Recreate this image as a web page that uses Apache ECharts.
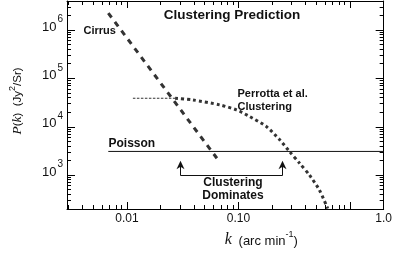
<!DOCTYPE html>
<html><head><meta charset="utf-8">
<script src="https://cdn.jsdelivr.net/npm/echarts@6/dist/echarts.min.js"></script>
<style>html,body{margin:0;padding:0;background:#fff}#c{width:395px;height:262px}</style>
</head><body><div id="c"></div>
<script>
// ---- axis ranges & ticks ----
const xMin = 0.0029, xMax = 2.0;
const yMin = 200, yMax = 4.0e6;
const xTickValues = [0.01, 0.1];
const xTickLabels = ['0.01', '0.10'];
const xEdgeLabel = '1.0';
const xMinorTicks = [0.003,0.004,0.005,0.006,0.007,0.008,0.009,0.02,0.03,0.04,0.05,0.06,0.07,0.08,0.09,0.2,0.3,0.4,0.5,0.6,0.7,0.8,0.9];
const yTickValues = [1e3, 1e4, 1e5, 1e6];
const yTickExponents = ['3', '4', '5', '6'];
const yMinorTicks = [300,400,500,600,700,800,900,2e3,3e3,4e3,5e3,6e3,7e3,8e3,9e3,2e4,3e4,4e4,5e4,6e4,7e4,8e4,9e4,2e5,3e5,4e5,5e5,6e5,7e5,8e5,9e5,2e6,3e6];
// ---- series ----
const cirrusK = [0.0068, 0.064];
const cirrusP = [2.25e6, 2240];
const perrottaFlatK = [0.0113, 0.027];
const perrottaFlatP = [3.9e4, 3.9e4];
const perrottaK = [0.027, 0.039, 0.068, 0.096, 0.126, 0.178, 0.234, 0.287, 0.353, 0.433, 0.532, 0.63];
const perrottaP = [3.9e4, 3.6e4, 2.84e4, 2.24e4, 1.63e4, 1.01e4, 5.4e3, 3.07e3, 1.76e3, 1.0e3, 490, 205];
const poissonK = [0.0068, 2.0];
const poissonP = [3100, 3100];
const bracketK = [0.03, 0.25];
const bracketBaseP = 1000;
const arrowTipP = 2000;
// ---- texts ----
const titleText = 'Clustering Prediction';
const cirrusText = 'Cirrus';
const perrottaText = 'Perrotta et al.\nClustering';
const poissonText = 'Poisson';
const dominatesText = 'Clustering\nDominates';

const SANS = '"Liberation Sans", Arial, Helvetica, sans-serif';
const SERIF = '"Liberation Serif", "Times New Roman", serif';
const INK = '#111';
const LINE = '#333';

const zip = (a, b) => a.map((v, i) => [v, b[i]]);
const near = (a, b) => Math.abs(Math.log10(a) - Math.log10(b)) < 1e-4;
const px = v => Math.round(v - 0.5) + 0.5;

const chart = echarts.init(document.getElementById('c'), null, {renderer: 'canvas'});

const commonX = {type: 'log', min: xMin, max: xMax, logBase: 10, splitLine: {show: false}};
const commonY = {type: 'log', min: yMin, max: yMax, logBase: 10, splitLine: {show: false}};

chart.setOption({
  animation: false,
  backgroundColor: '#fff',
  grid: {left: 67, right: 11, top: 1, bottom: 53},
  xAxis: [
    Object.assign({}, commonX, {
      position: 'bottom',
      axisLine: {show: true, lineStyle: {color: '#000', width: 1}},
      axisTick: {show: true, inside: true, length: 7, lineStyle: {color: '#000'}},
      axisLabel: {
        show: true, margin: 4, color: INK, fontFamily: SANS, fontSize: 12,
        showMinLabel: false, showMaxLabel: true,
        formatter: v => {
          for (let i = 0; i < xTickValues.length; i++) if (near(v, xTickValues[i])) return xTickLabels[i];
          if (near(v, xMax)) return xEdgeLabel;
          return '';
        }
      },
      name: '{k|k}{t| (arc min}{s|-1}{t|)}',
      nameLocation: 'middle', nameGap: 19,
      nameTextStyle: {
        padding: [0, 0, 0, 72],
        rich: {
          k: {fontFamily: SERIF, fontStyle: 'italic', fontSize: 16, color: INK, verticalAlign: 'bottom', lineHeight: 18, padding: [0, 3, 0, 0]},
          t: {fontFamily: SANS, fontSize: 13, color: INK, verticalAlign: 'bottom', lineHeight: 16},
          s: {fontFamily: SANS, fontSize: 9, color: INK, verticalAlign: 'top', lineHeight: 10}
        }
      }
    }),
    Object.assign({}, commonX, {
      position: 'top',
      axisLine: {show: true, lineStyle: {color: '#000', width: 1}},
      axisTick: {show: true, inside: true, length: 7, lineStyle: {color: '#000'}},
      axisLabel: {show: false}
    })
  ],
  yAxis: [
    Object.assign({}, commonY, {
      position: 'left',
      axisLine: {show: true, lineStyle: {color: '#000', width: 1}},
      axisTick: {show: true, inside: true, length: 8, lineStyle: {color: '#000'}},
      axisLabel: {
        show: true, margin: 4, color: INK,
        showMinLabel: false, showMaxLabel: false,
        padding: [0, 0, 6, 0],
        formatter: v => {
          for (let i = 0; i < yTickValues.length; i++) if (near(v, yTickValues[i])) return '{b|10}{s|' + yTickExponents[i] + '}';
          return '';
        },
        rich: {
          b: {fontFamily: SANS, fontSize: 13, color: INK, verticalAlign: 'bottom', lineHeight: 13, padding: [6, 0, 0, 0]},
          s: {fontFamily: SANS, fontSize: 10, color: INK, verticalAlign: 'bottom', lineHeight: 10, padding: [0, 0, 9, 1]}
        }
      },
      name: '{i|P}{t|(}{i|k}{t|)  (Jy}{s|2}{t|/Sr)}',
      nameLocation: 'middle', nameRotate: 90, nameGap: 43,
      nameTextStyle: {
        padding: [0, 0, 0, 8],
        rich: {
          i: {fontFamily: SERIF, fontStyle: 'italic', fontSize: 13.5, color: INK, verticalAlign: 'bottom', lineHeight: 16},
          t: {fontFamily: SANS, fontSize: 11.5, color: INK, verticalAlign: 'bottom', lineHeight: 15},
          s: {fontFamily: SANS, fontSize: 9, color: INK, verticalAlign: 'top', lineHeight: 10}
        }
      }
    }),
    Object.assign({}, commonY, {
      position: 'right',
      axisLine: {show: true, lineStyle: {color: '#000', width: 1}},
      axisTick: {show: true, inside: true, length: 8, lineStyle: {color: '#000'}},
      axisLabel: {show: false}
    })
  ],
  series: [
    {
      name: 'xMinor', type: 'custom', silent: true, clip: false, z: 5,
      data: xMinorTicks.map(v => [v, yMin]),
      renderItem: (params, api) => {
        const cs = params.coordSys;
        const x = px(api.coord([api.value(0), api.value(1)])[0]);
        const b = cs.y + cs.height, t = cs.y;
        return {type: 'group', children: [
          {type: 'line', shape: {x1: x, y1: b, x2: x, y2: b - 4}, style: {stroke: '#000', lineWidth: 1}},
          {type: 'line', shape: {x1: x, y1: t, x2: x, y2: t + 4}, style: {stroke: '#000', lineWidth: 1}}
        ]};
      }
    },
    {
      name: 'yMinor', type: 'custom', silent: true, clip: false, z: 5,
      data: yMinorTicks.map(v => [xMin, v]),
      renderItem: (params, api) => {
        const cs = params.coordSys;
        const y = px(api.coord([api.value(0), api.value(1)])[1]);
        const l = cs.x, r = cs.x + cs.width;
        return {type: 'group', children: [
          {type: 'line', shape: {x1: l, y1: y, x2: l + 4, y2: y}, style: {stroke: '#000', lineWidth: 1}},
          {type: 'line', shape: {x1: r, y1: y, x2: r - 4, y2: y}, style: {stroke: '#000', lineWidth: 1}}
        ]};
      }
    },
    {
      name: 'Poisson', type: 'line', symbol: 'none', silent: true,
      data: zip(poissonK, poissonP),
      lineStyle: {color: '#111', width: 1, type: 'solid'}
    },
    {
      name: 'Cirrus', type: 'line', symbol: 'none', silent: true,
      data: zip(cirrusK, cirrusP),
      lineStyle: {color: LINE, width: 3, type: [5.5, 5.5], cap: 'butt'}
    },
    {
      name: 'PerrottaFlat', type: 'line', symbol: 'none', silent: true,
      data: zip(perrottaFlatK, perrottaFlatP),
      lineStyle: {color: LINE, width: 1, type: [2.5, 1.5]}
    },
    {
      name: 'Perrotta', type: 'line', symbol: 'none', silent: true, smooth: 0.25,
      data: zip(perrottaK, perrottaP),
      lineStyle: {color: LINE, width: 3, type: [3, 3], cap: 'butt'}
    },
    {
      name: 'Bracket', type: 'custom', silent: true, z: 6,
      data: [[bracketK[0], bracketBaseP, bracketK[1], arrowTipP]],
      renderItem: (params, api) => {
        const a = api.coord([api.value(0), api.value(1)]);
        const b = api.coord([api.value(2), api.value(1)]);
        const tipY = api.coord([api.value(0), api.value(3)])[1];
        const x0 = px(a[0]), x1 = px(b[0]), yb = px(a[1]);
        const head = x => ({type: 'polygon', shape: {points: [[x, tipY], [x + 4, tipY + 8.5], [x, tipY + 6], [x - 4, tipY + 8.5]]}, style: {fill: '#111'}});
        return {type: 'group', children: [
          {type: 'polyline', shape: {points: [[x0, tipY + 5], [x0, yb], [x1, yb], [x1, tipY + 5]]}, style: {stroke: '#111', lineWidth: 1, fill: null}},
          head(x0), head(x1)
        ]};
      }
    }
  ],
  graphic: [
    {type: 'text', x: 232, y: 15.5, silent: true, style: {text: titleText, font: 'bold 13.5px ' + SANS, fill: INK, textAlign: 'center', textVerticalAlign: 'middle', align: 'center', verticalAlign: 'middle'}},
    {type: 'text', x: 83.5, y: 30.5, silent: true, style: {text: cirrusText, font: 'bold 11px ' + SANS, fill: INK, textAlign: 'left', textVerticalAlign: 'middle', align: 'left', verticalAlign: 'middle'}},
    {type: 'text', x: 237.5, y: 100.3, silent: true, style: {text: perrottaText, font: 'bold 11px ' + SANS, lineHeight: 13.5, fill: INK, textAlign: 'left', textVerticalAlign: 'middle', align: 'left', verticalAlign: 'middle'}},
    {type: 'text', x: 108.5, y: 144, silent: true, style: {text: poissonText, font: 'bold 12px ' + SANS, fill: INK, textAlign: 'left', textVerticalAlign: 'middle', align: 'left', verticalAlign: 'middle'}},
    {type: 'text', x: 233, y: 189.5, silent: true, style: {text: dominatesText, font: 'bold 12px ' + SANS, lineHeight: 13, fill: INK, textAlign: 'center', textVerticalAlign: 'middle', align: 'center', verticalAlign: 'middle'}}
  ]
});
</script>
</body></html>
